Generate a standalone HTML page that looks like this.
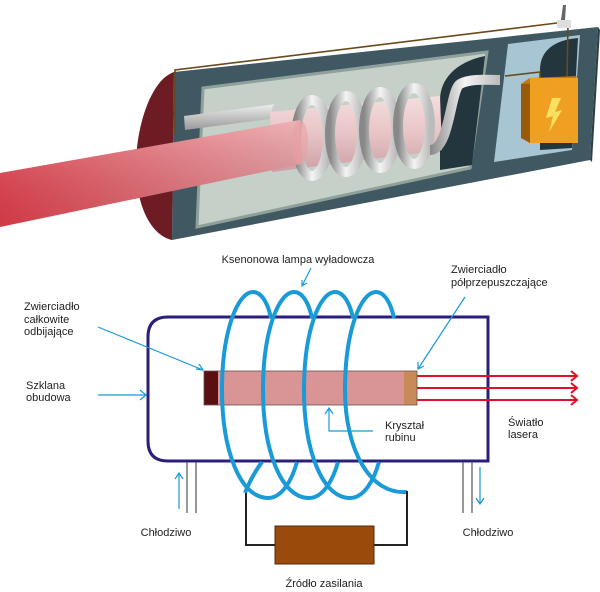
<!DOCTYPE html>
<html><head><meta charset="utf-8"><style>
html,body{margin:0;padding:0;background:#fff}
svg{display:block}
text{font-family:"Liberation Sans",sans-serif;font-size:11px;fill:#222}
</style></head><body>
<svg width="600" height="592" viewBox="0 0 600 592" xmlns="http://www.w3.org/2000/svg">
<defs>
<linearGradient id="beam" x1="0" y1="0" x2="1" y2="0">
<stop offset="0" stop-color="#e8404e"/><stop offset="0.7" stop-color="#ec8088"/><stop offset="1" stop-color="#e89aa0"/></linearGradient>
<linearGradient id="beamv" x1="0" y1="0" x2="0" y2="1">
<stop offset="0" stop-color="#fff" stop-opacity="0.25"/><stop offset="1" stop-color="#000" stop-opacity="0.1"/></linearGradient>
<linearGradient id="rodg" x1="0" y1="0" x2="0" y2="1">
<stop offset="0" stop-color="#f4dede"/><stop offset="0.5" stop-color="#e8c4c6"/><stop offset="1" stop-color="#caa0a6"/></linearGradient>
<linearGradient id="ring" x1="0" y1="0" x2="1" y2="0">
<stop offset="0" stop-color="#888"/><stop offset="0.5" stop-color="#f4f4f4"/><stop offset="1" stop-color="#bbb"/></linearGradient>
<linearGradient id="lamp" x1="0" y1="0" x2="0" y2="1">
<stop offset="0" stop-color="#eee"/><stop offset="1" stop-color="#999"/></linearGradient>
</defs>

<!-- TOP ILLUSTRATION -->
<path d="M174,72 L598,27 L590,160 L172,240 Z" fill="#3f5862"/>
<path d="M598,27 L600,30 L592,162 L590,160 Z" fill="#2c3f47"/>
<path d="M174,72 C150,80 135,130 136,170 C137,205 150,235 172,240 Z" fill="#6e1c24"/>
<path d="M203,88 L487,52 L470,168 L197,227 Z" fill="#c4d0c8" stroke="#8fa09a" stroke-width="3"/>
<path d="M440,100 C440,80 455,62 485,56 L472,165 L440,170 Z" fill="#23353d"/>
<path d="M508,44 L580,35 L572,150 L494,162 Z" fill="#a8c5d3"/>
<path d="M540,70 C540,50 555,40 578,38 L572,148 L540,150 Z" fill="#23353d"/>
<path d="M184,116 L276,104 L277,118 L185,130 Z" fill="url(#lamp)"/>
<ellipse cx="276" cy="111" rx="4" ry="7" fill="#ccc"/>
<path d="M270,112 L440,96 L442,150 L272,172 Z" fill="url(#rodg)"/>
<g fill="none" stroke="url(#ring)" stroke-width="10">
<ellipse cx="312" cy="138" rx="16" ry="38"/>
<ellipse cx="346" cy="134" rx="16" ry="38"/>
<ellipse cx="380" cy="130" rx="16" ry="38"/>
<ellipse cx="414" cy="126" rx="16" ry="38"/>
<path d="M430,150 C450,150 450,90 460,84 C470,78 490,80 500,80"/>
</g>
<path d="M0,173 L300,120 L302,164 L0,227 Z" fill="url(#beam)"/>
<path d="M0,173 L300,120 L302,164 L0,227 Z" fill="url(#beamv)"/>
<ellipse cx="300" cy="142" rx="8" ry="22" fill="#e9a0a4" opacity="0.6"/>
<path d="M175,135 L175,70 L565,22 L568,22 L567,80 M505,76 L540,72 L540,80" fill="none" stroke="#6a4a1a" stroke-width="1.6"/>
<rect x="557" y="20" width="14" height="8" fill="#ddd"/>
<path d="M561,20 L563,5 L566,5 L565,20 Z" fill="#666"/>
<path d="M521,84 L530,78 L530,143 L521,138 Z" fill="#9a5a08"/>
<path d="M521,84 L530,78 L578,76 L570,82 Z" fill="#c07a10"/>
<rect x="530" y="78" width="48" height="65" fill="#f0a020"/>
<path d="M552,98 L546,118 L553,116 L549,132 L562,110 L555,112 L561,98 Z" fill="#f8e060"/>

<!-- BOTTOM DIAGRAM -->
<path d="M168,317 L488,317 L488,461 L168,461 Q148,461 148,441 L148,337 Q148,317 168,317 Z" fill="#fff" stroke="#2a1f7a" stroke-width="3"/>
<rect x="204" y="371" width="14" height="34" fill="#5a1010"/>
<rect x="218" y="371" width="186" height="34" fill="#d99496"/>
<rect x="404" y="371" width="13" height="34" fill="#c98a5a"/>
<rect x="204" y="371" width="213" height="34" fill="none" stroke="#6a5050" stroke-width="0.8"/>
<g fill="none" stroke="#1a9ad6" stroke-width="4">
<!-- back strands visible above tube -->
<path d="M253,292 C262,292 268,304 271,318"/>
<path d="M294,292 C303,292 309,304 312,318"/>
<path d="M335,292 C344,292 350,304 353,318"/>
<path d="M376,292 C385,292 391,304 394,318"/>
<!-- first back strand below -->
<path d="M245,493 C250,480 256,470 262,462"/>
<!-- front strands -->
<path d="M253,292 C238,292 222,330 222,390 C222,450 240,498 268,498 C282,498 292,480 297,462"/>
<path d="M294,292 C279,292 263,330 263,390 C263,450 281,498 309,498 C323,498 333,480 338,462"/>
<path d="M335,292 C320,292 304,330 304,390 C304,450 322,498 350,498 C364,498 374,480 379,462"/>
<path d="M376,292 C361,292 345,330 345,390 C345,450 370,495 407,492"/>
</g>
<g stroke="#e0102a" stroke-width="2" fill="none">
<path d="M417,376 L577,376 M571,371 L577,376 L571,381"/>
<path d="M417,388 L577,388 M571,383 L577,388 L571,393"/>
<path d="M417,400 L577,400 M571,395 L577,400 L571,405"/>
</g>
<path d="M246,493 L246,545 L275,545 M407,491 L407,545 L374,545" fill="none" stroke="#222" stroke-width="2"/>
<rect x="275" y="526" width="99" height="38" fill="#9a4a0a" stroke="#5a2a04" stroke-width="1"/>
<g stroke="#555" stroke-width="1.2">
<path d="M187,462 L187,513 M196,462 L196,513 M463,462 L463,513 M472,462 L472,513"/>
</g>
<g stroke="#1a9ad6" stroke-width="1.2" fill="none">
<path d="M179,509 L179,473 M175,479 L179,473 L183,479"/>
<path d="M480,467 L480,504 M476,498 L480,504 L484,498"/>
<path d="M311,268 L302,286 M302,280 L302,286 L307,283"/>
<path d="M465,297 L418,369 M418,362 L418,369 L424,366"/>
<path d="M98,327 L203,370 M196,369 L203,370 L199,364"/>
<path d="M98,395 L146,395 M140,390 L146,395 L140,400"/>
<path d="M373,431 L329,431 L329,408 M325,414 L329,408 L333,414"/>
</g>
<text x="298" y="263" text-anchor="middle">Ksenonowa lampa wyładowcza</text>
<text x="451" y="273">Zwierciadło</text>
<text x="451" y="286">półprzepuszczające</text>
<text x="24" y="310">Zwierciadło</text>
<text x="24" y="323">całkowite</text>
<text x="24" y="335">odbijające</text>
<text x="26" y="389">Szklana</text>
<text x="26" y="401">obudowa</text>
<text x="385" y="429">Kryształ</text>
<text x="385" y="441">rubinu</text>
<text x="508" y="426">Światło</text>
<text x="508" y="438">lasera</text>
<text x="166" y="536" text-anchor="middle">Chłodziwo</text>
<text x="488" y="536" text-anchor="middle">Chłodziwo</text>
<text x="324" y="587" text-anchor="middle">Źródło zasilania</text>
</svg>
</body></html>
